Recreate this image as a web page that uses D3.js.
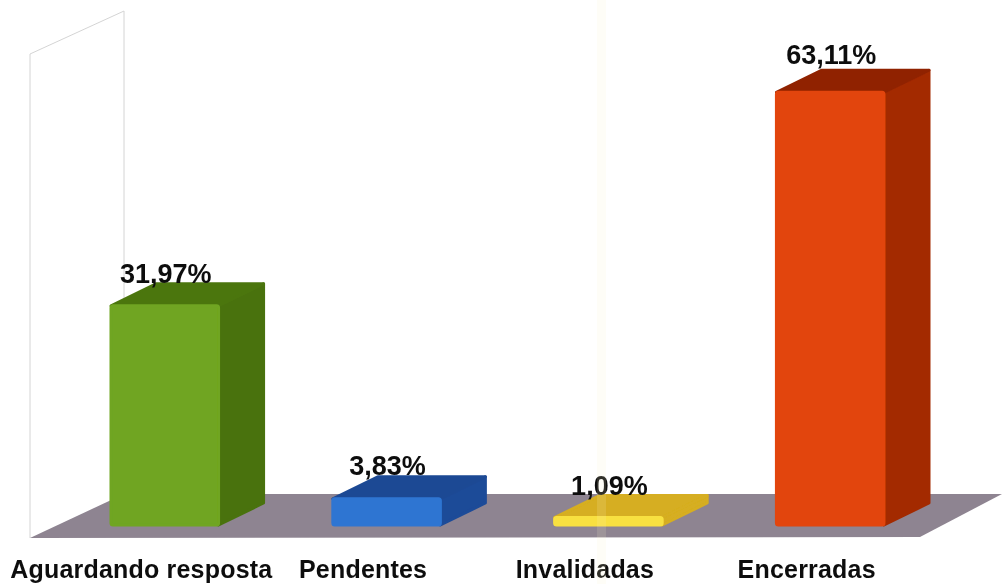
<!DOCTYPE html>
<html>
<head>
<meta charset="utf-8">
<script src="https://cdn.jsdelivr.net/npm/d3@7"></script>
<style>
html, body { margin: 0; padding: 0; background: #fff; overflow: hidden; }
text { font-family: "Liberation Sans", Arial, sans-serif; font-weight: bold; fill: #111; }
</style>
</head>
<body>
<div class="chart"></div>
<script>
const categories = ["Aguardando resposta", "Pendentes", "Invalidadas", "Encerradas"];
const values = [31.97, 3.83, 1.09, 63.11];
const valueLabels = ["31,97%", "3,83%", "1,09%", "63,11%"];
const frontColors = ["#6fa520", "#2f75d2", "#f8e040", "#e2450a"];
const sideColors = ["#4a7210", "#1d4b98", "#d6ae20", "#a32a02"];
const topColors = ["#4c7610", "#1d4a94", "#d6ae20", "#902401"];

const width = 1002, height = 584;
// depth of the 3d box
const depthX = 45, depthY = 22;
// gap between box top and its label, the scan is not regular
const labelGaps = [1, 2, 1, 6];

let x = d3.scaleBand()
    .domain(categories)
    .range([111, 884])
    .paddingInner(0.515);

let y = d3.scaleLinear()
    .domain([0, 70])
    .range([525, 45]);

let svg = d3.select(".chart").append("svg")
    .attr("width", width)
    .attr("height", height);

svg.append("defs").append("filter").attr("id", "scan")
    .append("feGaussianBlur").attr("stdDeviation", 0.7);

let chart = svg.append("g").attr("filter", "url(#scan)");

// back wall outline
chart.append("path")
    .attr("d", "M30,538 L30,54 L124,11 L124,494")
    .attr("fill", "#fff")
    .attr("stroke", "#d4d4d4")
    .attr("stroke-width", 1);

// floor
chart.append("path")
    .attr("d", "M30,538 L124,494 L1002,494 L920,537 Z")
    .attr("fill", "#8e8491");

let bars = chart.selectAll(".bar")
    .data(categories)
    .enter().append("g")
    .attr("class", "bar");

// side face
bars.append("path")
    .attr("d", (d, i) => {
        let r = x(d) + x.bandwidth();
        return `M${r},${y(values[i])} L${r + depthX},${y(values[i]) - depthY} L${r + depthX},${y(0) - depthY} L${r},${y(0)} Z`;
    })
    .attr("fill", (d, i) => sideColors[i])
    .attr("stroke", (d, i) => sideColors[i])
    .attr("stroke-width", 3)
    .attr("stroke-linejoin", "round");

// top face
bars.append("path")
    .attr("d", (d, i) => {
        let l = x(d), r = l + x.bandwidth(), t = y(values[i]);
        return `M${l},${t} L${l + depthX},${t - depthY} L${r + depthX},${t - depthY} L${r},${t} Z`;
    })
    .attr("fill", (d, i) => topColors[i])
    .attr("stroke", (d, i) => topColors[i])
    .attr("stroke-width", 3)
    .attr("stroke-linejoin", "round");

// front face
bars.append("rect")
    .attr("x", d => x(d))
    .attr("y", (d, i) => y(values[i]))
    .attr("width", x.bandwidth())
    .attr("height", (d, i) => y(0) - y(values[i]))
    .attr("rx", 2)
    .attr("fill", (d, i) => frontColors[i])
    .attr("stroke", (d, i) => frontColors[i])
    .attr("stroke-width", 3)
    .attr("stroke-linejoin", "round");

// value labels
chart.selectAll(".value")
    .data(categories)
    .enter().append("text")
    .attr("class", "value")
    .attr("x", d => x(d) + x.bandwidth() / 2 + 1)
    .attr("y", (d, i) => y(values[i]) - depthY - labelGaps[i])
    .attr("text-anchor", "middle")
    .attr("font-size", 27)
    .text((d, i) => valueLabels[i]);

// category labels
chart.selectAll(".category")
    .data(categories)
    .enter().append("text")
    .attr("class", "category")
    .attr("x", d => x(d) + x.bandwidth() / 2 - 23.5)
    .attr("y", 578)
    .attr("text-anchor", "middle")
    .attr("font-size", 25)
    .attr("letter-spacing", 0.2)
    .text(d => d);

// faint scanner stripe
svg.append("rect")
    .attr("x", 597).attr("y", 0)
    .attr("width", 9).attr("height", height)
    .attr("fill", "#f8efcc")
    .attr("opacity", 0.15);
</script>
</body>
</html>
